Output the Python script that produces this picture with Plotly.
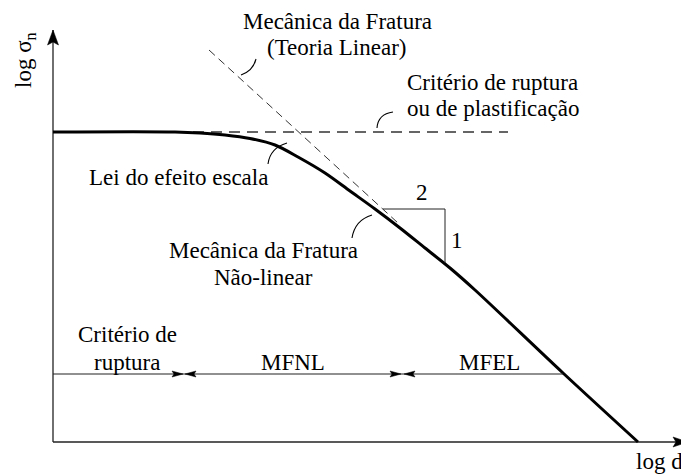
import plotly.graph_objects as go

# ---- data (schematic; units: arbitrary log units) ----
log_d = [0, 12.2, 14.7, 17.2, 19.7, 22.2, 24.5, 27.2, 29.7, 32.2, 34.7, 37.2, 39.7, 42.2, 51.0, 58.5]
log_sigma = [31.0, 31.0, 30.9, 30.7, 30.35, 29.7, 28.5, 26.9, 25.1, 23.3, 21.4, 19.4, 17.4, 15.2, 6.9, 0]

strength_x = [14.0, 45.5]          # strength criterion (horizontal asymptote)
strength_y = [31.0, 31.0]
lefm_x = [15.6, 34.5]              # LEFM asymptote (slope -1/2)
lefm_y = [39.2, 21.9]

slope_x = [33.0, 39.2, 39.2]       # slope triangle 2:1
slope_y = [23.3, 23.3, 17.9]

zone_level = 6.8                   # dimension line for the zones
zone_bounds = [0, 13.0, 13.2, 34.8, 35.1, 51.0]
zone_labels = ["MFNL", "MFEL"]

x_tip = 63.5
y_tip = 41.2

FONT = "Liberation Serif, Times New Roman, Times, serif"
FS = 23
BLACK = "#000000"
DARK = "#222222"

fig = go.Figure()

# axes
fig.add_trace(go.Scatter(x=[0, 0], y=[0, y_tip], mode="lines",
                         line=dict(color=DARK, width=1.3), hoverinfo="skip"))
fig.add_trace(go.Scatter(x=[0, x_tip], y=[0, 0], mode="lines",
                         line=dict(color=DARK, width=1.3), hoverinfo="skip"))

# asymptotes
fig.add_trace(go.Scatter(x=strength_x, y=strength_y, mode="lines",
                         line=dict(color="#333333", width=1.3, dash="11px,7px"), hoverinfo="skip"))
fig.add_trace(go.Scatter(x=lefm_x, y=lefm_y, mode="lines",
                         line=dict(color="#333333", width=1.0, dash="8px,5px"), hoverinfo="skip"))

# size effect law
fig.add_trace(go.Scatter(x=log_d, y=log_sigma, mode="lines",
                         line=dict(color=BLACK, width=3, shape="spline", smoothing=0.9),
                         hoverinfo="skip"))

# slope triangle
fig.add_trace(go.Scatter(x=slope_x, y=slope_y, mode="lines",
                         line=dict(color=DARK, width=1.0), hoverinfo="skip"))

# zone dimension line
fig.add_trace(go.Scatter(x=[zone_bounds[0], zone_bounds[-1]], y=[zone_level, zone_level],
                         mode="lines", line=dict(color=DARK, width=1.2), hoverinfo="skip"))

shapes = []


def head(xa, ya, path):
    shapes.append(dict(type="path", xref="x", yref="y",
                       xsizemode="pixel", ysizemode="pixel",
                       xanchor=xa, yanchor=ya, path=path,
                       fillcolor=BLACK, line=dict(color=BLACK, width=0.5)))


# axis arrowheads
head(x_tip, 0, "M0,0 L-15,-5 L-12,0 L-15,5 Z")
head(0, y_tip, "M0,0 L-5.5,-15 L0,-12 L5.5,-15 Z")

# zone arrowheads
R = "M0,0 L-11,-3 L-9,0 L-11,3 Z"
L = "M0,0 L11,-3 L9,0 L11,3 Z"
head(zone_bounds[1], zone_level, R)
head(zone_bounds[2], zone_level, L)
head(zone_bounds[3], zone_level, R)
head(zone_bounds[4], zone_level, L)

# curved leader lines
curves = [
    ((20.3, 38.3), (20.0, 37.1), (18.8, 36.7)),
    ((34.0, 33.0), (32.5, 32.8), (32.4, 31.4)),
    ((21.5, 27.8), (21.7, 29.4), (23.4, 29.9)),
    ((29.9, 20.4), (30.2, 22.2), (31.9, 22.7)),
]
annotations = []
for (p0, c, p1) in curves:
    shapes.append(dict(type="path", xref="x", yref="y",
                       path=f"M {p0[0]},{p0[1]} Q {c[0]},{c[1]} {p1[0]},{p1[1]}",
                       line=dict(color=BLACK, width=1.1)))
    t = 0.12
    annotations.append(dict(x=p1[0], y=p1[1], ax=p1[0] + t * (c[0] - p1[0]),
                            ay=p1[1] + t * (c[1] - p1[1]), axref="x", ayref="y",
                            xref="x", yref="y", text="", showarrow=True,
                            arrowhead=2, arrowsize=1.9, arrowwidth=1.2,
                            arrowcolor=BLACK, standoff=0))


def label(x, y, text, xanchor="center", angle=0, yref="y", yanchor="middle"):
    annotations.append(dict(x=x, y=y, xref="x", yref=yref, text=text, showarrow=False,
                            xanchor=xanchor, yanchor=yanchor, textangle=angle,
                            font=dict(family=FONT, size=FS, color=BLACK)))


label(28.4, 42.1, "Mecânica da Fratura")
label(28.4, 39.5, "(Teoria Linear)")
label(35.2, 36.0, "Critério de ruptura", xanchor="left")
label(35.2, 33.4, "ou de plastificação", xanchor="left")
label(12.5, 26.5, "Lei do efeito escala")
label(21.0, 19.2, "Mecânica da Fratura")
label(21.0, 16.5, "Não-linear")
label(36.9, 25.0, "2")
label(40.4, 20.2, "1")
label(7.4, 10.8, "Critério de")
label(7.4, 8.0, "ruptura")
label(24.0, 8.0, zone_labels[0])
label(43.6, 8.0, zone_labels[1])
label(63.2, 0, "log d", xanchor="right", yref="paper", yanchor="bottom")
label(-2.8, 38.2, "log σ<sub>n</sub>", angle=-90)

# the page body adds an 8px offset, so the figure is 8px smaller than the window
fig.update_layout(
    width=681, height=468,
    margin=dict(l=0, r=0, t=0, b=0),
    paper_bgcolor="white", plot_bgcolor="white",
    showlegend=False,
    font=dict(family=FONT),
    xaxis=dict(range=[-4.5, 63.6], visible=False, fixedrange=True),
    yaxis=dict(range=[-3.4, 43.4], visible=False, fixedrange=True),
    shapes=shapes,
    annotations=annotations,
)

fig.write_html("out.html")
